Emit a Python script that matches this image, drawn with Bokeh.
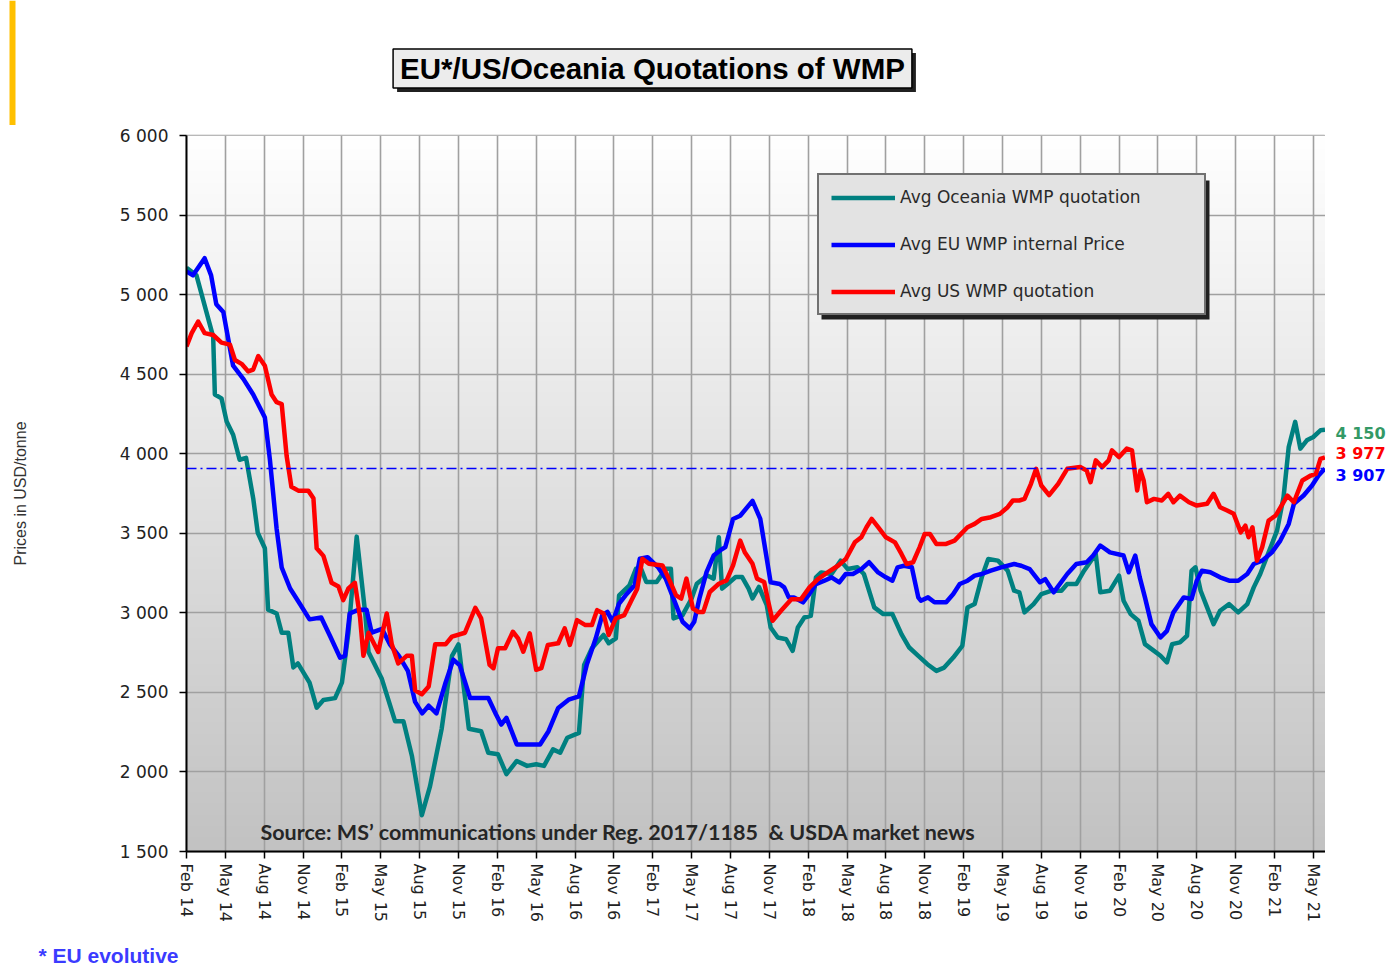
import numpy as np
from bokeh.plotting import figure
from bokeh.layouts import column, row
from bokeh.models import Range1d, FixedTicker, Span, Label, Legend, LegendItem, BoxAnnotation
from bokeh.embed import file_html
from bokeh.resources import INLINE

# ---------------- data ----------------
tick_labels = ["Feb 14", "May 14", "Aug 14", "Nov 14", "Feb 15", "May 15", "Aug 15", "Nov 15",
               "Feb 16", "May 16", "Aug 16", "Nov 16", "Feb 17", "May 17", "Aug 17", "Nov 17",
               "Feb 18", "May 18", "Aug 18", "Nov 18", "Feb 19", "May 19", "Aug 19", "Nov 19",
               "Feb 20", "May 20", "Aug 20", "Nov 20", "Feb 21", "May 21"]
y_ticks = [1500, 2000, 2500, 3000, 3500, 4000, 4500, 5000, 5500, 6000]

# x = months since Feb 2014
oce_m = [0, 0.77, 2.06, 2.19, 2.7, 3.1, 3.6, 4.1, 4.6, 5.15, 5.5, 6.05, 6.3, 6.96, 7.35, 7.86, 8.25, 8.6,
         9.5, 10.05, 10.57, 11.47, 12.0, 12.5, 13.14, 13.8, 14.05, 15.08, 16.1, 16.75, 17.4, 18.17, 18.8,
         19.7, 20.5, 21.0, 21.8, 22.75, 23.3, 24.05, 24.7, 25.5, 26.3, 27.0, 27.6, 28.3, 28.85, 29.4, 30.3,
         30.7, 31.3, 32.2, 32.6, 33.15, 33.4, 34.2, 34.7, 35.1, 35.5, 36.3, 37.0, 37.4, 37.6, 38.3, 39.0,
         39.4, 40.2, 40.7, 41.1, 41.35, 41.8, 42.4, 42.9, 43.4, 43.7, 44.2, 44.8, 45.1, 45.65, 46.3, 46.8,
         47.2, 47.7, 48.2, 48.6, 49.0, 49.8, 50.5, 51.05, 51.8, 52.3, 53.1, 53.8, 54.5, 55.2, 55.8, 56.5,
         57.2, 57.9, 58.5, 59.2, 59.9, 60.3, 60.85, 61.4, 61.9, 62.65, 63.4, 63.9, 64.3, 64.7, 65.4, 66.0,
         66.8, 67.55, 68.0, 68.7, 69.3, 70.2, 70.55, 71.3, 72.0, 72.35, 72.9, 73.5, 74.0, 74.7, 75.2, 75.7,
         76.1, 76.7, 77.25, 77.6, 77.9, 78.3, 78.8, 79.3, 79.8, 80.5, 81.2, 81.9, 82.4, 82.9, 83.7, 84.2,
         84.7, 85.1, 85.6, 86.0, 86.5, 87.0, 87.55, 87.9]
oce_v = [5169, 5121, 4734, 4372, 4348, 4203, 4119, 3962, 3974, 3720, 3503, 3406, 3020, 2996, 2875, 2875,
         2657, 2682, 2561, 2404, 2452, 2464, 2561, 2875, 3479, 2996, 2754, 2585, 2319, 2319, 2102, 1728,
         1909, 2271, 2730, 2802, 2271, 2256, 2121, 2111, 1986, 2069, 2038, 2048, 2038, 2142, 2121, 2215,
         2246, 2673, 2777, 2861, 2809, 2840, 3110, 3173, 3277, 3277, 3194, 3194, 3277, 3277, 2965, 2986,
         3090, 3183, 3235, 3215, 3475, 3152, 3183, 3225, 3225, 3152, 3090, 3163, 3048, 2908, 2845, 2834,
         2761, 2908, 2971, 2981, 3223, 3254, 3244, 3328, 3275, 3286, 3244, 3034, 2992, 2992, 2866, 2782,
         2730, 2677, 2635, 2656, 2719, 2793, 3034, 3055, 3223, 3338, 3328, 3265, 3139, 3129, 3003, 3055,
         3118, 3139, 3139, 3181, 3181, 3265, 3370, 3129, 3139, 3234, 3076, 2992, 2950, 2803, 2761, 2730,
         2688, 2803, 2814, 2856, 3265, 3286, 3139, 3034, 2929, 3013, 3055, 3003, 3055, 3160, 3244, 3412,
         3517, 3727, 4042, 4200, 4032, 4084, 4105, 4147, 4150]

eu_m = [0, 0.5, 1.4, 1.9, 2.3, 2.84, 3.6, 4.4, 5.15, 6.05, 6.44, 6.96, 7.35, 8.0, 8.76, 9.5, 10.4, 11.1,
        11.86, 12.24, 12.6, 13.3, 13.9, 14.3, 15.1, 15.7, 16.4, 17.1, 17.65, 18.2, 18.7, 19.3, 20.0, 20.6,
        21.1, 21.9, 22.5, 23.3, 23.9, 24.3, 24.7, 25.5, 26.3, 27.3, 27.95, 28.7, 29.5, 30.3, 30.9, 31.6,
        32.1, 32.5, 32.9, 33.4, 33.9, 34.6, 35.0, 35.6, 36.4, 37.0, 37.7, 38.3, 38.85, 39.2, 39.6, 40.15,
        40.7, 41.2, 41.6, 42.2, 42.75, 43.7, 44.3, 45.1, 45.8, 46.15, 46.5, 46.9, 47.6, 48.0, 48.6, 49.25,
        49.8, 50.4, 50.9, 51.45, 52.1, 52.7, 53.4, 54.0, 54.5, 54.9, 55.4, 56.0, 56.5, 56.7, 57.25, 57.75,
        58.65, 59.2, 59.7, 60.3, 60.85, 61.4, 62.1, 62.9, 63.9, 64.45, 65.1, 65.9, 66.3, 66.95, 68.0, 68.7,
        69.5, 70.0, 70.55, 71.3, 72.35, 72.75, 73.25, 73.6, 74.0, 74.5, 75.2, 75.7, 76.2, 77.0, 77.6, 78.0,
        78.4, 79.05, 79.8, 80.5, 81.2, 81.9, 82.4, 83.05, 83.8, 84.45, 85.1, 85.5, 86.25, 86.9, 87.4, 87.9]
eu_v = [5145, 5121, 5229, 5121, 4940, 4891, 4553, 4469, 4372, 4227, 3962, 3527, 3285, 3153, 3056, 2959,
        2971, 2851, 2718, 2730, 2996, 3020, 3020, 2875, 2899, 2802, 2730, 2633, 2440, 2368, 2416, 2368,
        2561, 2706, 2670, 2464, 2465, 2465, 2361, 2298, 2340, 2173, 2173, 2173, 2256, 2402, 2454, 2475,
        2673, 2840, 2986, 3006, 2944, 3058, 3110, 3173, 3340, 3350, 3288, 3215, 3069, 2944, 2902, 2944,
        3090, 3256, 3360, 3392, 3413, 3590, 3610, 3704, 3590, 3192, 3181, 3160, 3097, 3097, 3066, 3108,
        3181, 3202, 3223, 3192, 3244, 3244, 3275, 3318, 3254, 3223, 3202, 3286, 3296, 3286, 3097, 3076,
        3097, 3066, 3066, 3118, 3181, 3202, 3234, 3244, 3265, 3286, 3307, 3296, 3275, 3192, 3212, 3129,
        3244, 3307, 3318, 3360, 3423, 3380, 3360, 3255, 3360, 3223, 3097, 2929, 2845, 2887, 3003, 3097,
        3087, 3202, 3265, 3255, 3223, 3202, 3202, 3244, 3307, 3328, 3380, 3454, 3559, 3685, 3737, 3800,
        3863, 3907]

us_m = [0, 0.4, 0.9, 1.4, 2.06, 2.7, 3.35, 3.74, 4.25, 4.77, 5.15, 5.54, 6.05, 6.57, 6.96, 7.35, 7.73,
        8.1, 8.63, 9.4, 9.8, 10.05, 10.57, 11.2, 11.73, 12.1, 12.5, 13.0, 13.4, 13.66, 14.05, 14.8, 15.46,
        15.85, 16.35, 17.0, 17.4, 17.65, 18.17, 18.7, 19.2, 20.0, 20.5, 21.5, 22.3, 22.75, 23.4, 23.7,
        24.05, 24.6, 25.2, 25.6, 26.0, 26.5, 27.0, 27.4, 27.9, 28.7, 29.2, 29.6, 30.15, 30.8, 31.3, 31.7,
        32.2, 32.6, 33.15, 33.8, 34.3, 34.8, 35.2, 35.7, 36.75, 37.3, 37.8, 38.2, 38.6, 39.1, 39.5, 39.9,
        40.4, 41.1, 41.7, 42.2, 42.75, 43.1, 43.7, 44.05, 44.6, 44.9, 45.25, 45.9, 46.7, 47.45, 48.1,
        48.75, 49.5, 50.3, 50.9, 51.6, 52.1, 52.5, 52.9, 53.4, 54.0, 54.7, 55.2, 55.6, 56.1, 56.6, 57.0,
        57.4, 57.9, 58.65, 59.3, 59.8, 60.3, 60.85, 61.4, 62.1, 62.8, 63.4, 63.8, 64.3, 64.7, 65.2, 65.6,
        66.0, 66.6, 67.3, 68.0, 69.0, 69.5, 69.8, 70.2, 70.7, 71.2, 71.45, 72.0, 72.6, 73.0, 73.4, 73.65,
        73.9, 74.15, 74.7, 75.3, 75.8, 76.2, 76.7, 77.4, 78.0, 78.8, 79.3, 79.8, 80.35, 80.85, 81.4, 81.75,
        82.0, 82.3, 82.65, 83.05, 83.55, 84.1, 85.0, 85.5, 86.15, 86.8, 87.2, 87.55, 87.9]
us_v = [4674, 4758, 4831, 4758, 4746, 4698, 4686, 4589, 4565, 4517, 4529, 4614, 4553, 4372, 4324, 4312,
        3986, 3792, 3768, 3768, 3720, 3406, 3358, 3189, 3165, 3080, 3153, 3189, 2971, 2730, 2875, 2754,
        2996, 2802, 2682, 2730, 2730, 2513, 2488, 2537, 2802, 2802, 2851, 2875, 3032, 2965, 2673, 2652,
        2777, 2777, 2881, 2840, 2756, 2871, 2642, 2652, 2798, 2809, 2902, 2798, 2954, 2923, 2923, 3017,
        2996, 2861, 2965, 2986, 3069, 3152, 3340, 3308, 3298, 3204, 3110, 3090, 3215, 3027, 3006, 3006,
        3131, 3183, 3204, 3298, 3454, 3381, 3308, 3215, 3194, 3076, 2950, 3013, 3086, 3086, 3160, 3212,
        3254, 3296, 3338, 3443, 3475, 3538, 3590, 3538, 3475, 3443, 3370, 3307, 3318, 3412, 3496, 3496,
        3433, 3433, 3454, 3496, 3538, 3559, 3590, 3601, 3622, 3664, 3706, 3706, 3716, 3811, 3905, 3800,
        3740, 3811, 3905, 3916, 3895, 3821, 3958, 3916, 3958, 4021, 3979, 4032, 4021, 3769, 3895, 3832,
        3695, 3716, 3706, 3748, 3695, 3737, 3695, 3674, 3685, 3748, 3664, 3643, 3622, 3506, 3548, 3475,
        3538, 3328, 3412, 3580, 3612, 3737, 3695, 3832, 3863, 3874, 3968, 3977]

last_labels = ["4 150", "3 977", "3 907"]
eu_last = 3907

title_text = "EU*/US/Oceania Quotations of WMP"
source_text = "Source: MS\u2019 communications under Reg. 2017/1185 \u00a0& USDA market news"
footnote_text = "* EU evolutive"

# ---------------- layout (page pixels) ----------------
PAGE_W, PAGE_H = 1394, 968
TOP_H = 125                      # strip above main figure (title)
M_TOP, FW, FH, M_BOTTOM = 10, 1139, 716, 74
B_LEFT = 186
RIGHT_W = PAGE_W - B_LEFT - FW   # strip right of the plot (last values)
BOT_H = PAGE_H - TOP_H - (M_TOP + FH + M_BOTTOM)
FRAME_TOP = TOP_H + M_TOP        # 135
X0, X1, Y0, Y1 = 0.0, 87.94, 1500.0, 6000.0


def sx(px):          # page px -> data x
    return X0 + (px - B_LEFT) / FW * (X1 - X0)


def sy(py):          # page py -> data y
    return Y1 - (py - FRAME_TOP) / FH * (Y1 - Y0)


def blank_fig(w, h, x_range, y_range, **kw):
    f = figure(width=w, height=h, x_range=x_range, y_range=y_range, min_border=0,
               x_axis_location=None, y_axis_location=None, toolbar_location=None,
               output_backend="svg", outline_line_color=None,
               background_fill_color="white", border_fill_color="white", **kw)
    f.grid.grid_line_color = None
    return f


# ---------- top strip: title ----------
p_top = blank_fig(PAGE_W, TOP_H, Range1d(0, PAGE_W), Range1d(TOP_H, 0))
p_top.quad(left=9, right=15, top=0, bottom=TOP_H, fill_color="#FFC000", line_color=None)
pad = dict(left=7, right=7, top=3, bottom=3)
common = dict(x=652, y=68, text=title_text, text_align="center", text_baseline="middle",
              text_font="Liberation Sans", text_font_style="bold", text_font_size="29.5px", padding=pad)
p_top.add_layout(Label(x_offset=4, y_offset=-4, text_color="#202020",
                       background_fill_color="#202020", **common))
p_top.add_layout(Label(text_color="black", background_fill_color="#ececec",
                       border_line_color="black", border_line_width=1.5, **common))

# ---------- main chart ----------
p = figure(frame_width=FW, frame_height=FH,
           min_border_left=B_LEFT, min_border_top=M_TOP,
           min_border_right=0, min_border_bottom=M_BOTTOM,
           x_range=Range1d(X0, X1), y_range=Range1d(Y0, Y1),
           output_backend="svg", toolbar_location=None,
           background_fill_color="white", border_fill_color="white")

n = 256
g = np.linspace(194, 255, n).astype(np.uint32)
img = ((255 << 24) | (g << 16) | (g << 8) | g).astype(np.uint32).reshape(n, 1)
p.image_rgba(image=[img], x=X0, y=Y0, dw=X1 - X0, dh=Y1 - Y0, level="image")

p.outline_line_color = "#a0a0a0"
p.outline_line_width = 1.5

tick_pos = [3 * i for i in range(len(tick_labels))]
p.xaxis.ticker = FixedTicker(ticks=tick_pos)
p.xaxis.major_label_overrides = {t: lab for t, lab in zip(tick_pos, tick_labels)}
p.xaxis.major_label_orientation = "vertical"
p.yaxis.ticker = FixedTicker(ticks=y_ticks)
p.yaxis.major_label_overrides = {v: f"{v:,}".replace(",", " ") for v in y_ticks}

for ax in (p.xaxis[0], p.yaxis[0]):
    ax.axis_line_color = "black"
    ax.axis_line_width = 2
    ax.major_tick_line_color = "black"
    ax.major_tick_line_width = 1.5
    ax.major_tick_out = 7
    ax.major_tick_in = 0
    ax.minor_tick_line_color = None
    ax.major_label_text_font = "DejaVu Sans"
    ax.major_label_text_color = "#222222"
p.xaxis.major_label_text_font_size = "16px"
p.xaxis.major_label_standoff = 5
p.yaxis.major_label_text_font_size = "17px"
p.yaxis.major_label_standoff = 11

p.yaxis.axis_label = "Prices in USD/tonne"
p.yaxis.axis_label_text_font = "Liberation Sans"
p.yaxis.axis_label_text_font_style = "normal"
p.yaxis.axis_label_text_font_size = "16px"
p.yaxis.axis_label_text_color = "#333333"
p.yaxis.axis_label_standoff = 88

p.grid.grid_line_color = "#a0a0a0"
p.grid.grid_line_width = 1.6

p.add_layout(Span(location=eu_last, dimension="width", line_color="blue",
                  line_width=1.3, line_dash="10 4 2 4"))

r_oce = p.line(oce_m, oce_v, line_color="#008080", line_width=4.5, line_join="round")
r_eu = p.line(eu_m, eu_v, line_color="#0000FF", line_width=4.5, line_join="round")
r_us = p.line(us_m, us_v, line_color="#FF0000", line_width=4.5, line_join="round")

p.add_layout(BoxAnnotation(left=sx(821), right=sx(1209), top=sy(180), bottom=sy(319),
                           fill_color="#202020", fill_alpha=1, line_alpha=0))
legend = Legend(items=[LegendItem(label="Avg Oceania WMP quotation", renderers=[r_oce]),
                       LegendItem(label="Avg EU WMP internal Price", renderers=[r_eu]),
                       LegendItem(label="Avg US WMP quotation", renderers=[r_us])],
                location=(817 - B_LEFT, FRAME_TOP + FH - 315), orientation="vertical",
                padding=12, spacing=27, glyph_width=64, glyph_height=19,
                label_height=19, label_width=292, label_standoff=5, margin=0,
                background_fill_color="#e3e3e3", background_fill_alpha=1,
                border_line_color="black", border_line_width=2,
                label_text_font="DejaVu Sans", label_text_font_size="17px",
                label_text_color="#2a2a2a")
p.add_layout(legend)

p.add_layout(Label(x=sx(260), y=sy(831), text=source_text, text_align="left", text_baseline="middle",
                   text_font="Lato", text_font_style="bold", text_font_size="21.5px",
                   text_color="#262626"))

# ---------- right strip: last values (shares the y scale) ----------
p_right = figure(frame_width=RIGHT_W, frame_height=FH, min_border_left=0, min_border_right=0,
                 min_border_top=M_TOP, min_border_bottom=M_BOTTOM,
                 x_range=Range1d(0, RIGHT_W), y_range=p.y_range,
                 x_axis_location=None, y_axis_location=None, toolbar_location=None,
                 output_backend="svg", outline_line_color=None,
                 background_fill_color="white", border_fill_color="white")
p_right.grid.grid_line_color = None
for lab, py, col in zip(last_labels, [433, 453, 475], ["#339966", "#FF0000", "#0000FF"]):
    p_right.add_layout(Label(x=1335 - B_LEFT - FW, y=sy(py), text=lab, text_color=col,
                             text_align="left", text_baseline="middle", text_font="DejaVu Sans",
                             text_font_style="bold", text_font_size="16px"))

# ---------- bottom strip: footnote ----------
p_bot = blank_fig(PAGE_W, BOT_H, Range1d(0, PAGE_W), Range1d(BOT_H, 0))
p_bot.add_layout(Label(x=38, y=955 - (PAGE_H - BOT_H), text=footnote_text, text_align="left",
                       text_baseline="middle", text_font="Liberation Sans", text_font_style="bold",
                       text_font_size="21px", text_color="#3b3bff"))

layout = column(p_top, row(p, p_right, spacing=0), p_bot, spacing=0)

open("out.html", "w").write(file_html(layout, INLINE))
